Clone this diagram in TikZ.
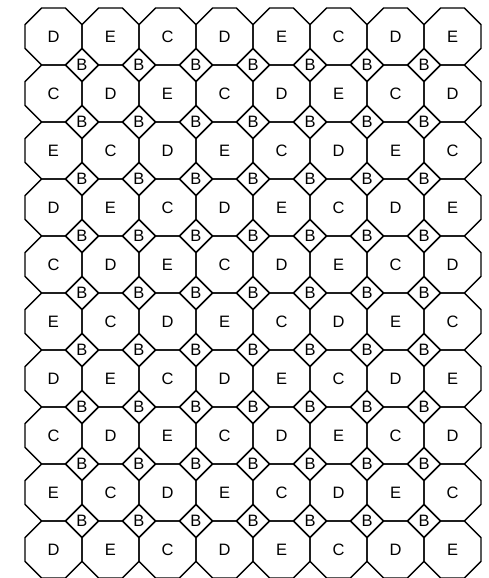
\documentclass[tikz,border=0pt]{standalone}
\usepackage{fontspec}
\setsansfont{Liberation Sans}
\usepackage{tikz}
\usetikzlibrary{shapes.geometric}

\begin{document}
\begin{tikzpicture}[
  x=57pt, y=-57pt,
  oct/.style={draw, line width=1.4pt, regular polygon, regular polygon sides=8,
    minimum size=61.7pt, inner sep=0pt, font=\sffamily\fontsize{16.5}{16.5}\selectfont},
  bcell/.style={draw, line width=1.4pt, diamond, fill=white, minimum width=33.4pt,
    minimum height=33.4pt, inner sep=0pt, font=\sffamily\fontsize{16.5}{16.5}\selectfont}
]
\useasboundingbox (-25pt,8pt) rectangle (464pt,-570pt);

% the big cells, letters repeat every third column
\foreach \r in {0,...,9} {
  \foreach \c in {0,...,7} {
    \pgfmathtruncatemacro{\k}{mod(\c-\r+30,3)}
    \node [oct] (o-\r-\c) at (\c+0.5,\r+0.5) {\ifcase\k D\or E\or C\fi};
  }
}

% the small squares between them
\foreach \r in {1,...,9} {
  \foreach \c in {1,...,7} {
    \node [bcell] (b-\r-\c) at (\c,\r) {B};
  }
}
\end{tikzpicture}
\end{document}
